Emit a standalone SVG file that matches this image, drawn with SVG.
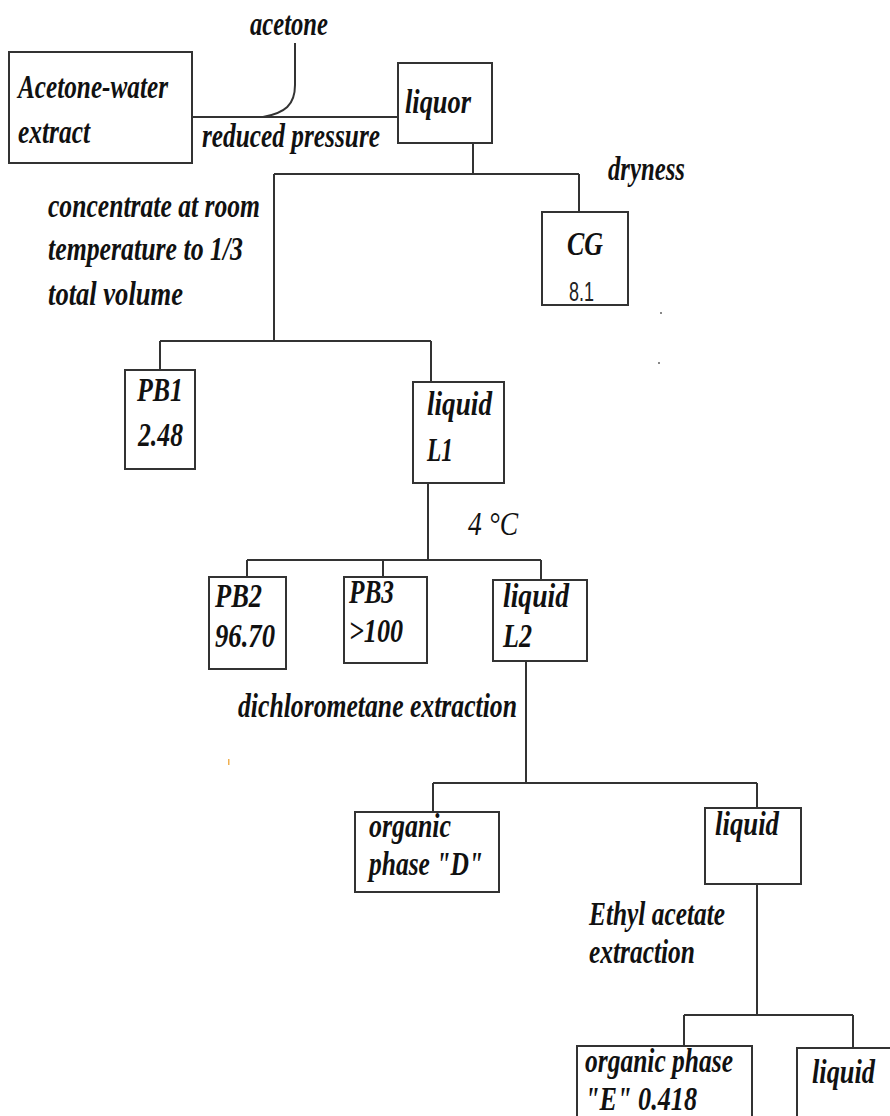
<svg xmlns="http://www.w3.org/2000/svg" width="890" height="1116" viewBox="0 0 890 1116">
<style>
.box{fill:#fff;stroke:#333;stroke-width:2}
.ln{fill:none;stroke:#333;stroke-width:2}
.t{font-family:"Liberation Serif","Times New Roman",serif;font-style:italic;font-weight:bold;font-size:34px;fill:#111}
.c{font-family:"Liberation Serif","Times New Roman",serif;font-style:italic;font-size:34px;fill:#111}
.n{font-family:"Liberation Sans",Arial,sans-serif;font-size:28px;fill:#222}
</style>
<rect width="890" height="1116" fill="#fff"/>
<g id="connectors">
<path class="ln" d="M192,117 H398"/>
<path class="ln" d="M295,43 V85 C295,105 285,113 263,117"/>
<path class="ln" d="M473,143 V174 M274,174 H579 M579,174 V212"/>
<path class="ln" d="M274,174 V341 M160,341 H431 M160,341 V370 M431,341 V382"/>
<path class="ln" d="M428,483 V560 M247,560 H541 M247,560 V577 M383,560 V577 M541,560 V580"/>
<path class="ln" d="M526,661 V783 M433,783 H757 M433,783 V812 M757,783 V808"/>
<path class="ln" d="M757,884 V1015 M684,1015 H853 M684,1015 V1046 M853,1015 V1048"/>
</g>
<g id="labels">
<text class="t" x="250" y="35" textLength="78" lengthAdjust="spacingAndGlyphs">acetone</text>
<text class="t" x="202" y="147" textLength="178" lengthAdjust="spacingAndGlyphs">reduced pressure</text>
<text class="t" x="608" y="180" textLength="77" lengthAdjust="spacingAndGlyphs">dryness</text>
<text class="t" x="48" y="217" textLength="212" lengthAdjust="spacingAndGlyphs">concentrate at room</text>
<text class="t" x="48" y="260" textLength="195" lengthAdjust="spacingAndGlyphs">temperature to 1/3</text>
<text class="t" x="48" y="305" textLength="135" lengthAdjust="spacingAndGlyphs">total volume</text>
<text class="c" x="468" y="535" font-size="30" textLength="50" lengthAdjust="spacingAndGlyphs">4 °C</text>
<text class="t" x="238" y="717" textLength="279" lengthAdjust="spacingAndGlyphs">dichlorometane extraction</text>
<text class="t" x="589" y="925" textLength="136" lengthAdjust="spacingAndGlyphs">Ethyl acetate</text>
<text class="t" x="589" y="963" textLength="106" lengthAdjust="spacingAndGlyphs">extraction</text>
<rect x="660" y="312" width="2" height="2" fill="#888"/>
<rect x="658" y="362" width="2" height="2" fill="#888"/>
<rect x="228" y="759" width="1.5" height="6" fill="#f0b050"/>
</g>
<g id="node-acetone-water">
<rect class="box" x="9" y="52" width="183" height="111"/>
<text class="t" x="18" y="98" textLength="150" lengthAdjust="spacingAndGlyphs">Acetone-water</text>
<text class="t" x="18" y="143" textLength="72" lengthAdjust="spacingAndGlyphs">extract</text>
</g>
<g id="node-liquor">
<rect class="box" x="398" y="63" width="94" height="80"/>
<text class="t" x="405" y="113" textLength="66" lengthAdjust="spacingAndGlyphs">liquor</text>
</g>
<g id="node-cg">
<rect class="box" x="542" y="212" width="86" height="93"/>
<text class="c" x="567" y="255" textLength="36" lengthAdjust="spacingAndGlyphs" font-weight="bold">CG</text>
<text class="n" x="569" y="301" textLength="25" lengthAdjust="spacingAndGlyphs">8.1</text>
</g>
<g id="node-pb1">
<rect class="box" x="125" y="370" width="70" height="99"/>
<text class="t" x="137" y="401" textLength="46" lengthAdjust="spacingAndGlyphs">PB1</text>
<text class="t" x="138" y="446" textLength="45" lengthAdjust="spacingAndGlyphs">2.48</text>
</g>
<g id="node-l1">
<rect class="box" x="413" y="382" width="91" height="101"/>
<text class="t" x="427" y="415" textLength="65" lengthAdjust="spacingAndGlyphs">liquid</text>
<text class="t" x="427" y="461" textLength="26" lengthAdjust="spacingAndGlyphs">L1</text>
</g>
<g id="node-pb2">
<rect class="box" x="209" y="577" width="77" height="92"/>
<text class="t" x="215" y="607" textLength="47" lengthAdjust="spacingAndGlyphs">PB2</text>
<text class="t" x="215" y="647" textLength="60" lengthAdjust="spacingAndGlyphs">96.70</text>
</g>
<g id="node-pb3">
<rect class="box" x="344" y="577" width="83" height="86"/>
<text class="t" x="349" y="603" textLength="45" lengthAdjust="spacingAndGlyphs">PB3</text>
<text class="t" x="349" y="642" textLength="54" lengthAdjust="spacingAndGlyphs">&gt;100</text>
</g>
<g id="node-l2">
<rect class="box" x="493" y="580" width="94" height="81"/>
<text class="t" x="503" y="607" textLength="66" lengthAdjust="spacingAndGlyphs">liquid</text>
<text class="t" x="503" y="647" textLength="29" lengthAdjust="spacingAndGlyphs">L2</text>
</g>
<g id="node-organic-d">
<rect class="box" x="355" y="812" width="144" height="80"/>
<text class="t" x="369" y="837" textLength="82" lengthAdjust="spacingAndGlyphs">organic</text>
<text class="t" x="369" y="875" textLength="114" lengthAdjust="spacingAndGlyphs">phase "D"</text>
</g>
<g id="node-liquid-3">
<rect class="box" x="705" y="808" width="96" height="76"/>
<text class="t" x="715" y="835" textLength="64" lengthAdjust="spacingAndGlyphs">liquid</text>
</g>
<g id="node-organic-e">
<rect class="box" x="577" y="1046" width="175" height="90"/>
<text class="t" x="585" y="1072" textLength="148" lengthAdjust="spacingAndGlyphs">organic phase</text>
<text class="t" x="585" y="1110" textLength="112" lengthAdjust="spacingAndGlyphs">"E" 0.418</text>
</g>
<g id="node-liquid-4">
<rect class="box" x="797" y="1048" width="110" height="90"/>
<text class="t" x="812" y="1083" textLength="63" lengthAdjust="spacingAndGlyphs">liquid</text>
</g>
</svg>
